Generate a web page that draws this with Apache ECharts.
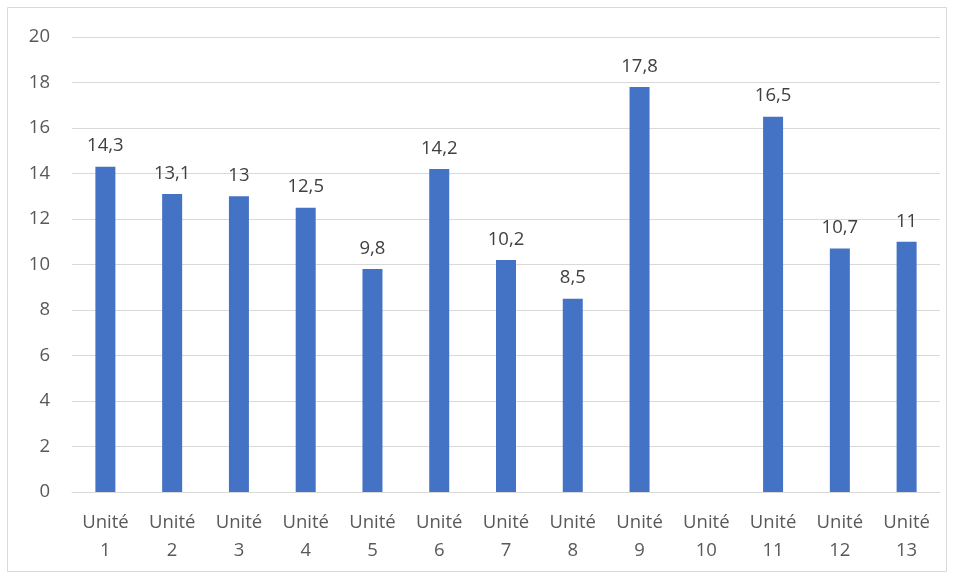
<!DOCTYPE html>
<html><head><meta charset="utf-8">
<script src="https://cdn.jsdelivr.net/npm/echarts@6/dist/echarts.min.js"></script>
<style>html,body{margin:0;padding:0;background:#fff}#c{width:955px;height:579px}</style>
</head><body><div id="c"></div>
<script>
const categories = ['Unité\n1','Unité\n2','Unité\n3','Unité\n4','Unité\n5','Unité\n6','Unité\n7','Unité\n8','Unité\n9','Unité\n10','Unité\n11','Unité\n12','Unité\n13'];
const values = [14.3, 13.1, 13, 12.5, 9.8, 14.2, 10.2, 8.5, 17.8, null, 16.5, 10.7, 11];
const yTicks = {min: 0, max: 20, interval: 2};

const chart = echarts.init(document.getElementById('c'));
const font = "'Open Sans', 'Liberation Sans', sans-serif";
chart.setOption({
  animation: false,
  graphic: [{type:'rect', shape:{x:7.5,y:7.5,width:939,height:564}, style:{fill:'none', stroke:'#d9d9d9', lineWidth:1}, silent:true}],
  grid: {left: 72, right: 15, top: 37, bottom: 87},
  xAxis: {
    type: 'category', data: categories,
    axisLine: {lineStyle: {color: '#d9d9d9', width: 1}},
    axisTick: {show: false},
    axisLabel: {color: '#595959', fontSize: 18.5, fontFamily: font, lineHeight: 28, margin: 17, interval: 0}
  },
  yAxis: {
    type: 'value', min: yTicks.min, max: yTicks.max, interval: yTicks.interval,
    axisLine: {show: false}, axisTick: {show: false},
    splitLine: {lineStyle: {color: '#d9d9d9', width: 1}},
    axisLabel: {color: '#595959', fontSize: 18.5, fontFamily: font, margin: 22}
  },
  series: [{
    type: 'bar', data: values, barWidth: 20,
    itemStyle: {color: '#4472C4'},
    label: {show: true, position: 'top', distance: 11, color: '#404040', fontSize: 18.5, fontFamily: font,
      formatter: p => p.value == null ? '' : String(p.value).replace('.', ',')}
  }]
});
</script></body></html>
